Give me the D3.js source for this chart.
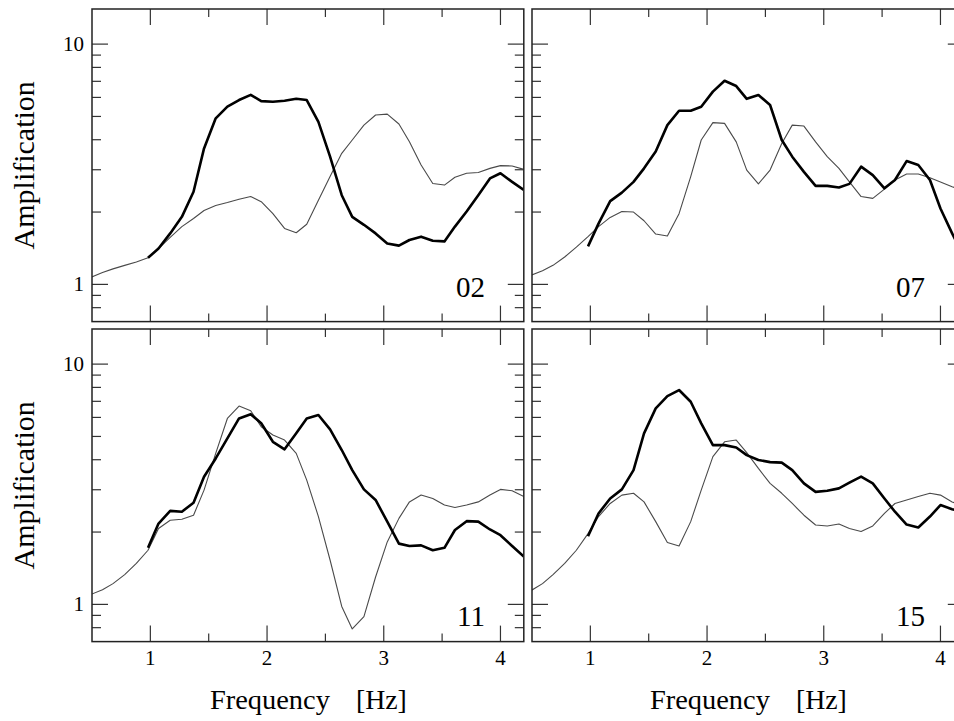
<!DOCTYPE html>
<html>
<head>
<meta charset="utf-8">
<script src="https://cdn.jsdelivr.net/npm/d3@7"></script>
<style>
  html, body { margin: 0; padding: 0; background: #fff; }
  svg { display: block; }
</style>
</head>
<body>
<svg id="chart" width="954" height="721"></svg>
<script>
// Frequency samples [Hz]
const frequency = [0.49, 0.59, 0.68, 0.78, 0.88, 0.98, 1.07, 1.17, 1.27, 1.37,
  1.46, 1.56, 1.66, 1.76, 1.86, 1.95, 2.05, 2.15, 2.25, 2.34,
  2.44, 2.54, 2.64, 2.73, 2.83, 2.93, 3.03, 3.13, 3.22, 3.32,
  3.42, 3.52, 3.61, 3.71, 3.81, 3.91, 4.00, 4.10, 4.20];
// Observed curves start at the sixth frequency sample
const observedFrequency = frequency.slice(5);

// Site 02
const model02 = [1.07, 1.12, 1.16, 1.20, 1.24, 1.29, 1.41, 1.57, 1.74, 1.88,
  2.03, 2.13, 2.19, 2.26, 2.32, 2.21, 1.97, 1.71, 1.64, 1.78,
  2.24, 2.81, 3.51, 3.99, 4.60, 5.07, 5.11, 4.65, 3.92, 3.14,
  2.63, 2.59, 2.79, 2.90, 2.92, 3.04, 3.12, 3.11, 3.01];
const observed02 = [1.29, 1.41, 1.63, 1.91, 2.43, 3.68, 4.91, 5.49, 5.85, 6.15,
  5.79, 5.76, 5.81, 5.92, 5.85, 4.75, 3.40, 2.35, 1.91, 1.77,
  1.63, 1.48, 1.45, 1.53, 1.58, 1.52, 1.51, 1.74, 2.01, 2.35,
  2.76, 2.90, 2.67, 2.47];

// Site 07
const model07 = [1.09, 1.14, 1.20, 1.30, 1.43, 1.58, 1.74, 1.90, 2.01, 2.00,
  1.84, 1.62, 1.59, 1.97, 2.81, 3.99, 4.71, 4.68, 3.92, 2.99,
  2.62, 2.99, 3.86, 4.60, 4.56, 3.92, 3.40, 3.04, 2.67, 2.32,
  2.28, 2.49, 2.72, 2.88, 2.88, 2.78, 2.67, 2.55, 2.45];
const observed07 = [1.44, 1.79, 2.22, 2.41, 2.67, 3.04, 3.57, 4.60, 5.28, 5.28,
  5.49, 6.34, 7.04, 6.69, 5.92, 6.14, 5.58, 3.99, 3.40, 2.94,
  2.57, 2.57, 2.53, 2.62, 3.09, 2.85, 2.51, 2.72, 3.26, 3.14,
  2.72, 2.07, 1.63, 1.30];

// Site 11
const model11 = [1.10, 1.15, 1.22, 1.33, 1.48, 1.68, 2.07, 2.24, 2.26, 2.35,
  2.99, 4.25, 5.94, 6.69, 6.40, 5.49, 5.07, 4.83, 4.25, 3.29,
  2.32, 1.53, 0.98, 0.79, 0.89, 1.30, 1.82, 2.28, 2.67, 2.85,
  2.76, 2.59, 2.53, 2.59, 2.67, 2.85, 3.01, 2.97, 2.81];
const observed11 = [1.72, 2.17, 2.45, 2.43, 2.65, 3.40, 4.05, 4.91, 5.94, 6.19,
  5.67, 4.75, 4.42, 5.15, 5.94, 6.14, 5.35, 4.39, 3.62, 3.01,
  2.72, 2.21, 1.79, 1.75, 1.76, 1.68, 1.72, 2.04, 2.22, 2.21,
  2.05, 1.94, 1.75, 1.58];

// Site 15
const model15 = [1.14, 1.22, 1.33, 1.48, 1.68, 1.97, 2.32, 2.63, 2.85, 2.90,
  2.67, 2.21, 1.81, 1.75, 2.21, 2.99, 4.12, 4.75, 4.83, 4.28,
  3.68, 3.19, 2.90, 2.63, 2.35, 2.14, 2.12, 2.16, 2.07, 2.01,
  2.12, 2.39, 2.63, 2.72, 2.81, 2.90, 2.85, 2.67, 2.55];
const observed15 = [1.92, 2.39, 2.76, 3.01, 3.62, 5.15, 6.54, 7.36, 7.80, 6.97,
  5.67, 4.60, 4.60, 4.50, 4.18, 3.99, 3.91, 3.89, 3.62, 3.19,
  2.94, 2.97, 3.04, 3.21, 3.40, 3.19, 2.76, 2.43, 2.15, 2.09,
  2.32, 2.59, 2.49, 2.43];

const siteNames = ["02", "07", "11", "15"];
const xTickValues = [1, 2, 3, 4];
const xMinorValues = [1.5, 2.5, 3.5];
const yTickValues = [1, 10];
const yMinorValues = [0.8, 0.9, 2, 3, 4, 5, 6, 7, 8, 9];
const xDomain = [0.5, 4.2];
const yDomain = [0.7, 14];
const xTitle = "Frequency";
const xUnit = "[Hz]";
const yTitle = "Amplification";

const panels = [
  { name: siteNames[0], model: model02, observed: observed02, col: 0, row: 0 },
  { name: siteNames[1], model: model07, observed: observed07, col: 1, row: 0 },
  { name: siteNames[2], model: model11, observed: observed11, col: 0, row: 1 },
  { name: siteNames[3], model: model15, observed: observed15, col: 1, row: 1 }
];

// Layout
const panelW = 431.8, panelH = 312.6;
const colX = [92, 532];
const rowY = [9, 329];
const labelBaseline = [288, 297];
const serif = "'Liberation Serif', 'Times New Roman', serif";

const svg = d3.select("#chart");
const defs = svg.append("defs");

const x = d3.scaleLinear().domain(xDomain).range([0, panelW]);
const y = d3.scaleLog().domain(yDomain).range([panelH, 0]);

const tickColor = "#333";

function addText(sel) {
  return sel.append("text").attr("font-family", serif).attr("fill", "#000");
}

panels.forEach((p, i) => {
  const g = svg.append("g")
    .attr("transform", `translate(${colX[p.col]},${rowY[p.row]})`);

  defs.append("clipPath").attr("id", "clip" + i)
    .append("rect").attr("width", panelW).attr("height", panelH);

  // Ticks on all four sides, pointing inward
  const ticks = g.append("g").attr("stroke", tickColor).attr("stroke-width", 1.2);
  const xt = [...xTickValues.map(v => ({ v, len: 16 })), ...xMinorValues.map(v => ({ v, len: 8 }))];
  xt.forEach(t => {
    ticks.append("line").attr("x1", x(t.v)).attr("x2", x(t.v)).attr("y1", 0).attr("y2", t.len);
    ticks.append("line").attr("x1", x(t.v)).attr("x2", x(t.v)).attr("y1", panelH).attr("y2", panelH - t.len);
  });
  const yt = [...yTickValues.map(v => ({ v, len: 16 })), ...yMinorValues.map(v => ({ v, len: 9 }))];
  yt.forEach(t => {
    ticks.append("line").attr("y1", y(t.v)).attr("y2", y(t.v)).attr("x1", 0).attr("x2", t.len);
    ticks.append("line").attr("y1", y(t.v)).attr("y2", y(t.v)).attr("x1", panelW).attr("x2", panelW - t.len);
  });

  // Curves
  const line = d3.line()
    .x(d => x(d[0]))
    .y(d => y(d[1]));

  const plot = g.append("g").attr("clip-path", `url(#clip${i})`);
  plot.append("path")
    .datum(d3.zip(frequency, p.model))
    .attr("d", line)
    .attr("fill", "none")
    .attr("stroke", "#4a4a4a")
    .attr("stroke-width", 1.1)
    .attr("stroke-linejoin", "round");
  plot.append("path")
    .datum(d3.zip(observedFrequency, p.observed))
    .attr("d", line)
    .attr("fill", "none")
    .attr("stroke", "#000")
    .attr("stroke-width", 2.6)
    .attr("stroke-linejoin", "round");

  // Frame
  g.append("rect")
    .attr("width", panelW).attr("height", panelH)
    .attr("fill", "none").attr("stroke", "#222").attr("stroke-width", 1.5);

  // Site label
  addText(g)
    .attr("x", 393).attr("y", labelBaseline[p.row])
    .attr("text-anchor", "end")
    .attr("font-size", 29)
    .text(p.name);

  // Y axis labels on the left column
  if (p.col === 0) {
    yTickValues.forEach(v => {
      addText(g)
        .attr("x", -8).attr("y", y(v) + 7)
        .attr("text-anchor", "end")
        .attr("font-size", 21)
        .text(d3.format("d")(v));
    });
    addText(g)
      .attr("transform", `translate(${33.5 - colX[0]},${panelH / 2}) rotate(-90)`)
      .attr("text-anchor", "middle")
      .attr("font-size", 30)
      .text(yTitle);
  }

  // X axis labels on the bottom row
  if (p.row === 1) {
    xTickValues.forEach(v => {
      addText(g)
        .attr("x", x(v)).attr("y", panelH + 23.5)
        .attr("text-anchor", "middle")
        .attr("font-size", 21)
        .text(v);
    });
    const cx = panelW / 2;
    addText(g)
      .attr("x", cx - 98).attr("y", panelH + 67.5)
      .attr("font-size", 28)
      .attr("textLength", 120)
      .attr("lengthAdjust", "spacingAndGlyphs")
      .text(xTitle);
    addText(g)
      .attr("x", cx + 48).attr("y", panelH + 67.5)
      .attr("font-size", 28)
      .attr("textLength", 51)
      .attr("lengthAdjust", "spacingAndGlyphs")
      .text(xUnit);
  }
});
</script>
</body>
</html>
